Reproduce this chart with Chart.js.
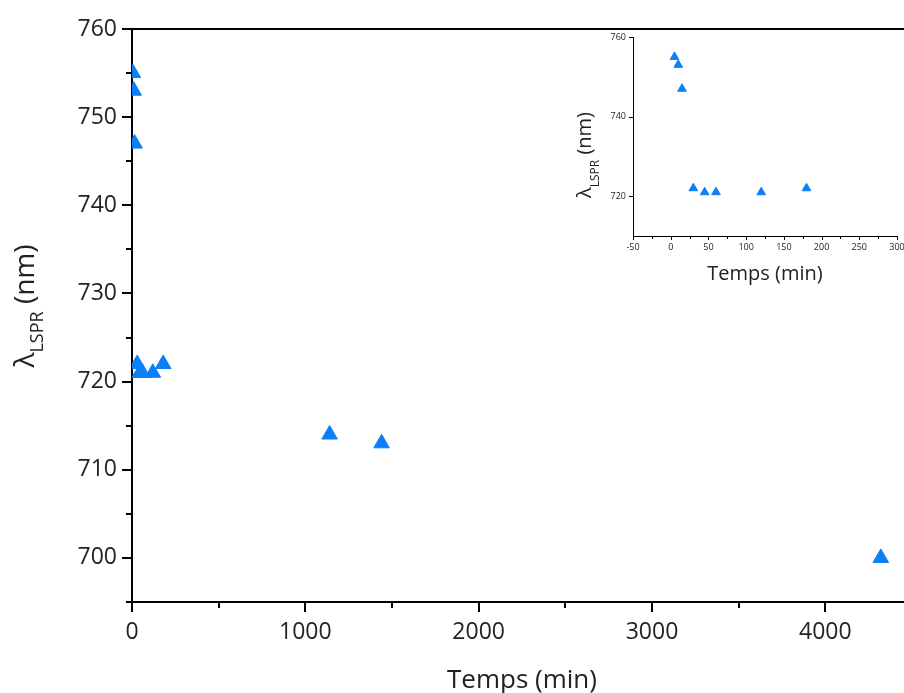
<!DOCTYPE html>
<html>
<head>
<meta charset="utf-8">
<script src="https://cdn.jsdelivr.net/npm/chart.js@4.4.1/dist/chart.umd.min.js"></script>
<style>
  html, body { margin: 0; padding: 0; background: #fff; }
  #wrap { position: relative; width: 904px; height: 693px; overflow: hidden; }
  #mainChart { position: absolute; left: 0; top: 0; }
  #insetChart { position: absolute; left: 560px; top: 20px; }
</style>
</head>
<body>
<div id="wrap">
  <canvas id="mainChart" width="912" height="693"></canvas>
  <canvas id="insetChart" width="350" height="280"></canvas>
</div>
<script>
// temps de réaction (min) et position de la bande plasmon (nm)
const temps = [5, 10, 15, 30, 45, 60, 120, 180, 1140, 1440, 4320];
const lambdaLSPR = [755, 753, 747, 722, 721, 721, 721, 722, 714, 713, 700];
// l'encart ne montre que les 3 premières heures
const insetMaxTemps = 180;

// graduations principales (avec étiquette)
const mainXTicks = [0, 1000, 2000, 3000, 4000];
const mainYTicks = [700, 710, 720, 730, 740, 750, 760];
const insetXTicks = [-50, 0, 50, 100, 150, 200, 250, 300];
const insetYTicks = [720, 740, 760];

const pointColor = '#0b80f6';
const textColor = '#222';
const FONT = '"Open Sans", "Noto Sans", sans-serif';

Chart.defaults.font.family = FONT;
Chart.defaults.color = textColor;

// λ avec indice LSPR, écrit verticalement
function drawLambdaTitle(ctx, cx, cy, size, subSize, shift) {
    ctx.save();
    ctx.translate(cx, cy);
    ctx.rotate(-Math.PI / 2);
    ctx.fillStyle = textColor;
    ctx.textAlign = 'left';
    ctx.textBaseline = 'alphabetic';
    ctx.font = `${size}px ${FONT}`;
    const wL = ctx.measureText('λ').width;
    const wN = ctx.measureText(' (nm)').width;
    ctx.font = `${subSize}px ${FONT}`;
    const wS = ctx.measureText('LSPR').width;
    let x = -(wL + wS + wN) / 2;
    ctx.font = `${size}px ${FONT}`;
    ctx.fillText('λ', x, 0);
    x += wL;
    ctx.font = `${subSize}px ${FONT}`;
    ctx.fillText('LSPR', x, shift);
    x += wS;
    ctx.font = `${size}px ${FONT}`;
    ctx.fillText(' (nm)', x, 0);
    ctx.restore();
}

// graduations majeures / mineures + cadre du haut + titre de l'axe y
const axesDeco = {
    id: 'axesDeco',
    afterDraw(chart, args, o) {
        const ctx = chart.ctx;
        const area = chart.chartArea;
        const xs = chart.scales.x, ys = chart.scales.y;
        ctx.save();
        ctx.strokeStyle = '#000';
        ctx.lineWidth = o.lineWidth;
        ctx.beginPath();
        xs.ticks.forEach(t => {
            const px = Math.round(xs.getPixelForValue(t.value)) + (o.lineWidth % 2 ? 0.5 : 0);
            const len = o.majorX.includes(t.value) ? o.major : o.minorX;
            if (!len) return;
            ctx.moveTo(px, area.bottom);
            ctx.lineTo(px, area.bottom + len);
        });
        ys.ticks.forEach(t => {
            const py = Math.round(ys.getPixelForValue(t.value)) + (o.lineWidth % 2 ? 0.5 : 0);
            const len = o.majorY.includes(t.value) ? o.major : o.minorY;
            if (!len) return;
            ctx.moveTo(area.left, py);
            ctx.lineTo(area.left - len, py);
        });
        if (o.topLine) {
            ctx.moveTo(area.left, area.top);
            ctx.lineTo(area.right, area.top);
        }
        ctx.stroke();
        ctx.restore();
        const t = o.title;
        drawLambdaTitle(ctx, t.x, t.y, t.size, t.sub, t.shift);
    }
};

function makeChart(id, cfg) {
    const xs = cfg.x, ys = cfg.y;
    return new Chart(document.getElementById(id), {
        type: 'scatter',
        data: {
            datasets: [{
                data: cfg.temps.map((t, i) => ({ x: t, y: cfg.lambda[i] })),
                pointStyle: 'triangle',
                pointRadius: cfg.radius,
                pointHoverRadius: cfg.radius,
                backgroundColor: pointColor,
                borderColor: pointColor,
                borderWidth: 1
            }]
        },
        options: {
            responsive: false,
            animation: false,
            devicePixelRatio: 1,
            layout: { padding: cfg.padding, autoPadding: false },
            plugins: {
                legend: { display: false },
                tooltip: { enabled: false },
                axesDeco: cfg.deco
            },
            scales: {
                x: {
                    type: 'linear',
                    min: xs.min, max: xs.max,
                    afterFit: s => { s.height = xs.size; s.paddingLeft = 0; s.paddingRight = 0; },
                    grid: { display: true, drawOnChartArea: false, drawTicks: false },
                    border: { color: '#000', width: cfg.deco.lineWidth },
                    ticks: {
                        stepSize: xs.step,
                        autoSkip: false,
                        maxRotation: 0,
                        padding: xs.pad,
                        font: { size: xs.font },
                        callback: v => cfg.deco.majorX.includes(v) ? String(v) : ''
                    },
                    title: {
                        display: true,
                        text: 'Temps (min)',
                        font: { size: xs.titleSize },
                        padding: { top: 0, bottom: xs.titlePad }
                    }
                },
                y: {
                    type: 'linear',
                    min: ys.min, max: ys.max,
                    afterFit: s => { s.width = ys.size; },
                    grid: { display: true, drawOnChartArea: false, drawTicks: false },
                    border: { color: '#000', width: cfg.deco.lineWidth },
                    ticks: {
                        stepSize: ys.step,
                        autoSkip: false,
                        padding: ys.pad,
                        font: { size: ys.font },
                        callback: v => cfg.deco.majorY.includes(v) ? String(v) : ''
                    }
                }
            }
        },
        plugins: [axesDeco]
    });
}

// graphique principal
makeChart('mainChart', {
    temps: temps,
    lambda: lambdaLSPR,
    radius: 9,
    padding: { top: 29, right: 0, bottom: 0, left: 0 },
    x: { min: 0, max: 4500, step: 500, size: 91, pad: 17, font: 23, titleSize: 26, titlePad: -3 },
    y: { min: 695, max: 760, step: 5, size: 132, pad: 15, font: 23 },
    deco: {
        lineWidth: 2, major: 10, minorX: 6, minorY: 6,
        majorX: mainXTicks, majorY: mainYTicks, topLine: true,
        title: { x: 34, y: 306, size: 28, sub: 18, shift: 9 }
    }
});

// encart : zoom sur les premières minutes
const insetIdx = temps.map((t, i) => i).filter(i => temps[i] <= insetMaxTemps);
makeChart('insetChart', {
    temps: insetIdx.map(i => temps[i]),
    lambda: insetIdx.map(i => lambdaLSPR[i]),
    radius: 5,
    padding: { top: 17, right: 13, bottom: 0, left: 0 },
    x: { min: -50, max: 300, step: 25, size: 64, pad: 6, font: 9, titleSize: 20, titlePad: 14 },
    y: { min: 710, max: 760, step: 10, size: 73, pad: 7, font: 9 },
    deco: {
        lineWidth: 1, major: 4, minorX: 3, minorY: 0,
        majorX: insetXTicks, majorY: insetYTicks, topLine: false,
        title: { x: 31, y: 135, size: 20, sub: 12, shift: 8 }
    }
});
</script>
</body>
</html>
